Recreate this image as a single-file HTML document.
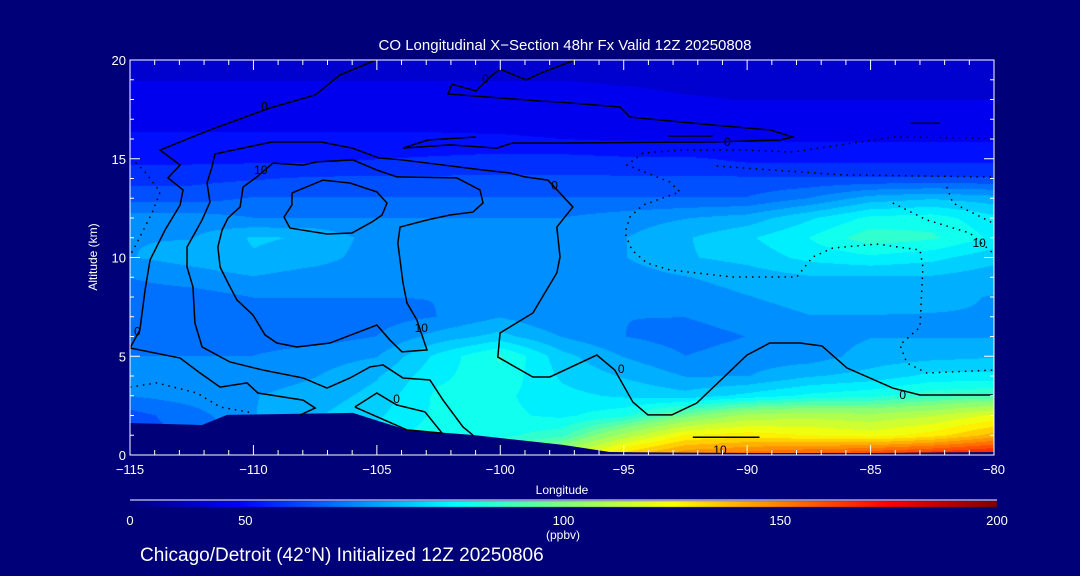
<!DOCTYPE html>
<html><head><meta charset="utf-8">
<style>
html,body{margin:0;padding:0;background:#000078;}
#wrap{position:relative;width:1080px;height:576px;background:#000078;overflow:hidden;font-family:"Liberation Sans",sans-serif;color:#fff;}
canvas,svg{position:absolute;left:0;top:0;}
</style></head>
<body>
<div id="wrap">
<canvas id="heat" width="1080" height="576"></canvas>
<svg id="svg" width="1080" height="576"></svg>
</div>
<script>
const lons = [-115,-112.5,-110,-107.5,-105,-102.5,-100,-97.5,-95,-92.5,-90,-87.5,-85,-82.5,-80];
const alts = [0,1,2,3,4,5,6,7,8,9,10,11,12,13,14,15,16,17,18,19,20];
const coValues = [
 [60,62,68,72,80,88,95,110,135,150,155,160,165,170,175],
 [60,62,68,72,80,86,86,90,108,125,128,125,122,128,140],
 [60,64,70,74,78,84,84,82,86,98,108,110,108,112,120],
 [66,68,70,72,76,84,84,80,78,76,80,84,86,90,92],
 [66,66,68,70,74,82,86,78,74,70,70,74,76,80,80],
 [66,66,66,68,70,80,88,76,70,66,68,68,72,73,74],
 [64,64,64,64,66,72,76,70,66,64,66,68,70,70,70],
 [64,64,64,64,64,66,70,66,66,66,68,70,70,70,70],
 [64,64,66,66,66,66,66,66,66,68,70,72,72,71,70],
 [66,68,70,68,68,68,68,68,68,70,72,74,74,74,72],
 [70,72,74,72,68,68,68,68,70,74,76,80,82,80,76],
 [70,70,75,74,68,68,68,68,70,74,78,83,90,88,82],
 [68,68,66,66,66,66,66,66,68,70,72,78,84,85,80],
 [60,60,62,62,62,62,62,62,62,62,62,66,72,74,72],
 [56,56,57,58,58,58,58,58,58,58,58,58,58,58,58],
 [52,52,52,52,53,54,55,55,54,54,52,52,52,52,52],
 [48,48,48,48,48,48,48,47,46,46,46,46,46,46,46],
 [45,45,45,45,45,45,44,43,42,42,42,40,40,40,40],
 [40,40,40,40,40,40,40,40,38,36,35,35,35,35,35],
 [35,35,35,35,35,35,35,35,34,33,33,33,33,33,33],
 [31,31,31,31,31,31,31,31,31,31,31,31,31,31,31]
];
const terrainLon = [-115,-112.08,-111.07,-105.97,-103.78,-101.1,-97.46,-95.56,-90,-85,-80];
const terrainAlt = [1.62,1.52,2.03,2.13,1.27,1.01,0.51,0.15,0.1,0.1,0.15];
const xTicks = [-115,-110,-105,-100,-95,-90,-85,-80];
const yTicks = [0,5,10,15,20];
const cbTickVals = [0,50,100,150,200];
const cbTickFrac = [0,0.133,0.5,0.75,1];
const contourSolid = [
 [[-105.04,20],[-106.5,19.24],[-107.5,18.23],[-109.33,17.57],[-111.76,16.46],[-113.78,15.44],[-112.97,14.68],[-113.46,14.03],[-112.85,13.42],[-112.97,12.66],[-113.58,11.39],[-114.19,9.87],[-114.39,8.35],[-114.6,6.33],[-115,5.42],[-112.97,4.91],[-112.16,4.15],[-111.35,3.44],[-110.26,3.65],[-109.82,3.14],[-107.99,2.78],[-107.5,2.38],[-108.1,2.03]],
 [[-101.11,1.01],[-101.51,1.42],[-102.32,2.78],[-102.85,3.8],[-103.94,3.9],[-104.75,4.56],[-105.28,4.46],[-106.09,3.9],[-107.02,3.39],[-107.99,3.9],[-109.61,4.3],[-110.95,4.71],[-112.08,5.47],[-112.37,6.68],[-112.45,8.51],[-112.69,9.52],[-112.69,10.53],[-112.08,11.9],[-111.76,12.81],[-111.88,13.77],[-111.68,14.58],[-111.56,15.24],[-109.25,15.85],[-107.26,15.85],[-106.0,15.54],[-104.92,15.04],[-103.98,14.94],[-100.7,14.43],[-99.61,14.28],[-99.0,14.08],[-98.07,13.92],[-97.06,12.56],[-97.71,11.54],[-97.58,10.03],[-97.71,9.22],[-98.68,7.19],[-100.01,6.18],[-100.1,4.96],[-98.68,3.95],[-97.99,3.95],[-96.09,5.06],[-95.36,4.3],[-94.63,2.68],[-94.02,2.03],[-93.05,2.03],[-92.04,2.63],[-90.01,5.06],[-89.08,5.67],[-87.86,5.67],[-86.97,5.52],[-85.96,4.41],[-84.1,3.39],[-83.0,3.04],[-80.05,3.04]],
 [[-109.21,14.78],[-107.99,14.68],[-107.43,14.84],[-105.97,14.94],[-105.0,14.43],[-104.19,14.08],[-101.76,14.03],[-100.82,13.42],[-100.7,12.76],[-101.11,12.3],[-102.04,12.15],[-102.97,11.9],[-104.06,11.54],[-104.15,10.73],[-103.94,8.71],[-103.78,7.7],[-103.38,6.84],[-102.97,5.32],[-103.98,5.22],[-104.47,5.82],[-105.0,6.58],[-106.9,5.67],[-108.24,5.47],[-109.05,5.67],[-109.53,6.08],[-110.02,7.09],[-110.67,7.85],[-111.03,8.71],[-111.35,9.52],[-111.44,10.53],[-111.27,11.39],[-111.03,12.0],[-110.54,12.56],[-110.42,13.57],[-109.86,14.08],[-109.21,14.78]],
 [[-108.44,13.27],[-107.18,13.92],[-106.09,13.77],[-105,13.32],[-104.59,12.76],[-104.79,12.15],[-105.2,11.8],[-106.01,11.24],[-107.02,11.19],[-108.52,11.49],[-108.76,12.05],[-108.44,12.66],[-108.44,13.27]],
 [[-105.89,2.43],[-105,3.14],[-104.19,2.53],[-103.05,2.18],[-102.36,1.11],[-103.78,1.27],[-105.89,2.43]],
 [[-96.98,20],[-98.35,19.34],[-98.96,18.99],[-100.01,19.54],[-100.42,19.14],[-100.99,18.43],[-101.96,18.78],[-102.12,18.28],[-98.35,17.92],[-97.58,17.87],[-95.15,17.62],[-94.75,17.11],[-93.53,16.96],[-91.39,16.71],[-89.08,16.46],[-88.15,16.1],[-88.67,15.95],[-91.39,15.85],[-97.58,15.8],[-99.49,15.8],[-100.14,15.54],[-102.04,15.7],[-103.94,15.54],[-102.93,15.95],[-100.99,16.1]],
 [[-92.2,0.9],[-89.5,0.9]],
 [[-83.4,16.8],[-82.2,16.8]],
 [[-93.2,16.15],[-91.4,16.15]]
];
const contourDotted = [
 [[-80.05,16.05],[-84.1,16.1],[-88.15,15.34],[-90.17,15.44],[-92.72,15.44],[-94.22,15.29],[-94.87,14.68],[-93.13,13.82],[-92.72,13.32],[-94.22,12.66],[-94.75,12.05],[-94.95,11.24],[-94.67,10.38],[-94.06,9.72],[-93.13,9.37],[-90.58,9.01],[-87.99,9.01],[-87.34,10.03],[-86.53,10.48],[-84.74,10.68],[-83.0,10.38],[-82.88,9.52],[-83.0,6.48],[-83.81,5.57],[-83.53,4.66],[-82.72,4.15],[-80.05,4.3]],
 [[-91.23,14.63],[-86.12,14.18],[-80.05,14.08]],
 [[-84.1,12.76],[-82.72,11.9],[-80.98,11.24],[-80.05,10.23]],
 [[-81.91,13.57],[-81.67,12.76],[-80.05,11.75]],
 [[-114.96,15.04],[-114.39,14.33],[-113.78,13.32],[-114.11,12.25],[-114.68,10.84],[-114.96,10.18]],
 [[-115,3.44],[-113.91,3.65],[-112.29,3.14],[-111.35,2.43],[-110.02,2.13]]
];
const contourLabels = [
 ["0",-109.55,17.6],["10",-109.7,14.4],["0",-97.8,13.6],["10",-103.2,6.4],["0",-95.1,4.3],["0",-104.2,2.8],["0",-114.7,6.2],["0",-83.7,3.0],["10",-80.6,10.7],["10",-91.1,0.2],["0",-90.8,15.8],["0",-100.6,19.0]
];

const X0=130,X1=994,Y0=60,Y1=455;
function xs(lon){return X0+(lon+115)/35*(X1-X0);}
function ys(a){return Y1-a/20*(Y1-Y0);}
function valToFrac(v){
  for(let i=1;i<cbTickVals.length;i++){
    if(v<=cbTickVals[i]){const t=(v-cbTickVals[i-1])/(cbTickVals[i]-cbTickVals[i-1]);return cbTickFrac[i-1]+t*(cbTickFrac[i]-cbTickFrac[i-1]);}
  }
  return 1;
}
function cl(x){return Math.max(0,Math.min(1,x));}
function jet(f){return [cl(1.5-Math.abs(4*f-3)),cl(1.5-Math.abs(4*f-2)),cl(1.5-Math.abs(4*f-1))].map(c=>Math.round(c*255));}
function sample(lon,a){
  let i=0;while(i<lons.length-2&&lon>lons[i+1])i++;
  let j=0;while(j<alts.length-2&&a>alts[j+1])j++;
  const tx=cl((lon-lons[i])/(lons[i+1]-lons[i])),ty=cl((a-alts[j])/(alts[j+1]-alts[j]));
  const v00=coValues[j][i],v10=coValues[j][i+1],v01=coValues[j+1][i],v11=coValues[j+1][i+1];
  return (v00*(1-tx)+v10*tx)*(1-ty)+(v01*(1-tx)+v11*tx)*ty;
}
const cv=document.getElementById('heat');const ctx=cv.getContext('2d');
const img=ctx.createImageData(X1-X0,Y1-Y0);
for(let py=0;py<Y1-Y0;py++){
  const a=(Y1-(Y0+py+0.5))/(Y1-Y0)*20;
  for(let px=0;px<X1-X0;px++){
    const lon=-115+(px+0.5)/(X1-X0)*35;
    let f=valToFrac(sample(lon,a));
    f=Math.floor(f*32)/32+1/64;
    const c=jet(f);const k=(py*(X1-X0)+px)*4;
    img.data[k]=c[0];img.data[k+1]=c[1];img.data[k+2]=c[2];img.data[k+3]=255;
  }
}
ctx.putImageData(img,X0,Y0);
const cbX0=130,cbX1=997;
for(let x=cbX0;x<cbX1;x++){const c=jet((x-cbX0)/(cbX1-cbX0));ctx.fillStyle=`rgb(${c[0]},${c[1]},${c[2]})`;ctx.fillRect(x,501,1,6);}

const NS='http://www.w3.org/2000/svg';const svg=document.getElementById('svg');
function mk(tag,attrs,parent){const e=document.createElementNS(NS,tag);for(const k in attrs)e.setAttribute(k,attrs[k]);(parent||svg).appendChild(e);return e;}
let tp=terrainLon.map((l,i)=>xs(l)+','+ys(terrainAlt[i])).join(' ');
tp+=' '+xs(-80)+','+(Y1+1)+' '+xs(-115)+','+(Y1+1);
const terr=mk('polygon',{points:tp,fill:'#000078'});


const gC=mk('g',{fill:'none',stroke:'#000',"stroke-width":1.5});


contourSolid.forEach(c=>{const p=mk('polyline',{points:c.map(q=>xs(q[0])+','+ys(q[1])).join(' ')},gC);

});
contourDotted.forEach(c=>{const p=mk('polyline',{points:c.map(q=>xs(q[0])+','+ys(q[1])).join(' '),"stroke-dasharray":"1.5 5","stroke-width":1.5},gC);

});
contourLabels.forEach(l=>{const t=mk('text',{x:xs(l[1]),y:ys(l[2]),fill:'#000',stroke:'none',"font-size":12,"text-anchor":"middle","dominant-baseline":"middle"},gC);t.textContent=l[0];

});
const box=mk('rect',{x:X0,y:Y0,width:X1-X0,height:Y1-Y0,fill:'none',stroke:'#fff',"stroke-width":1});


const gT=mk('g',{stroke:'#fff',"stroke-width":1});


for(let l=-115;l<=-80;l++){const maj=(l%5===0);const x=xs(l);mk('line',{x1:x,y1:Y1,x2:x,y2:Y1-(maj?10:5)},gT);mk('line',{x1:x,y1:Y0,x2:x,y2:Y0+(maj?10:5)},gT);}
for(let a=0;a<=20;a++){const maj=(a%5===0);const y=ys(a);mk('line',{x1:X0,y1:y,x2:X0+(maj?10:4),y2:y},gT);mk('line',{x1:X1,y1:y,x2:X1-(maj?10:4),y2:y},gT);}
xTicks.forEach(v=>{const t=mk('text',{x:xs(v),y:474,fill:'#fff',"font-size":13,"text-anchor":"middle"});t.textContent=(v<0?'\u2212':'')+Math.abs(v);

});
yTicks.forEach(v=>{const t=mk('text',{x:126,y:ys(v)+5,fill:'#fff',"font-size":13,"text-anchor":"end"});t.textContent=v;

});
const cbl=mk('line',{x1:cbX0,y1:500,x2:cbX1,y2:500,stroke:'#fff'});


cbTickVals.forEach((v,i)=>{const t=mk('text',{x:cbX0+cbTickFrac[i]*(cbX1-cbX0),y:525,fill:'#fff',"font-size":13,"text-anchor":"middle"});t.textContent=v;

});
function txt(s,attrs,name){const t=mk('text',Object.assign({fill:'#fff'},attrs));t.textContent=s;

return t;}
txt('CO Longitudinal X\u2212Section 48hr  Fx Valid 12Z 20250808',{x:565,y:50,"font-size":15,"text-anchor":"middle","xml:space":"preserve"},'chart-title');
txt('Longitude',{x:562,y:494,"font-size":12,"text-anchor":"middle"},'x-axis-title');
txt('Altitude (km)',{x:0,y:0,"font-size":12,"text-anchor":"middle",transform:'translate(97,257) rotate(-90)'},'y-axis-title');
txt('(ppbv)',{x:563,y:539,"font-size":12,"text-anchor":"middle"},'colorbar-unit');
txt('Chicago/Detroit (42\u00b0N) Initialized 12Z 20250806',{x:140,y:561,"font-size":19},'footer-caption');
</script>
</body></html>
